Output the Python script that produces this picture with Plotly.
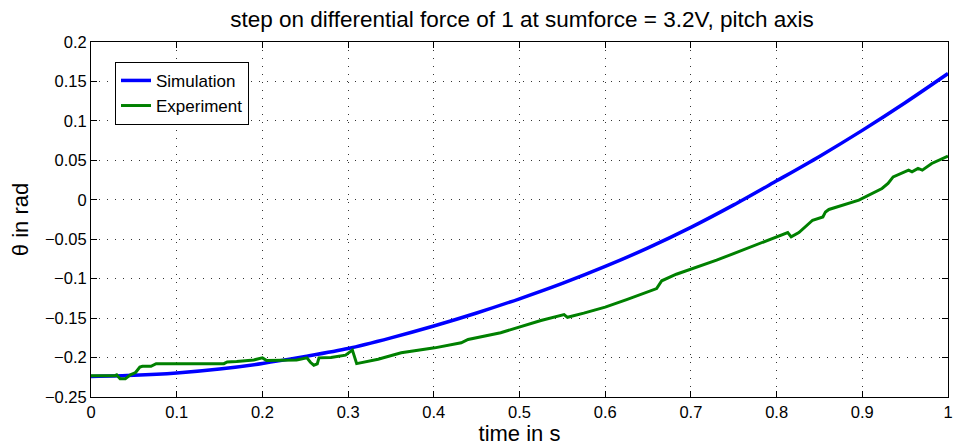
import plotly.graph_objects as go

# ---- data ----
sim_t = [0.00, 0.05, 0.10, 0.15, 0.20, 0.25, 0.30, 0.35, 0.40, 0.45, 0.50,
         0.55, 0.60, 0.65, 0.70, 0.75, 0.80, 0.85, 0.90, 0.95, 1.00]
sim_v = [-0.224, -0.2225, -0.2195, -0.2145, -0.2075, -0.1985, -0.1885, -0.175, -0.160, -0.1435, -0.1255,
         -0.106, -0.0845, -0.061, -0.035, -0.0065, 0.024, 0.055, 0.088, 0.123, 0.160]

exp_t = [0.000, 0.028, 0.030, 0.034, 0.040, 0.046, 0.052, 0.057, 0.060, 0.070, 0.076,
         0.155, 0.159, 0.170, 0.190, 0.200, 0.205, 0.240, 0.252, 0.256, 0.260, 0.264,
         0.266, 0.280, 0.297, 0.305, 0.310, 0.316, 0.335, 0.362, 0.401, 0.432, 0.440,
         0.478, 0.509, 0.525, 0.552, 0.556, 0.575, 0.600, 0.625, 0.645, 0.660, 0.666,
         0.683, 0.730, 0.768, 0.800, 0.813, 0.817, 0.826, 0.842, 0.854, 0.857, 0.861,
         0.896, 0.923, 0.930, 0.936, 0.954, 0.958, 0.965, 0.970, 0.981, 1.000]
exp_v = [-0.223, -0.223, -0.222, -0.227, -0.227, -0.222, -0.219, -0.212, -0.211, -0.211, -0.2077,
         -0.2077, -0.2055, -0.205, -0.203, -0.2004, -0.2038, -0.203, -0.2004, -0.206, -0.2097, -0.208,
         -0.2004, -0.200, -0.197, -0.1906, -0.2077, -0.2064, -0.2021, -0.194, -0.1877, -0.1813, -0.177,
         -0.1686, -0.158, -0.153, -0.1455, -0.149, -0.1437, -0.136, -0.1266, -0.119, -0.1126, -0.1027,
         -0.0944, -0.0766, -0.0606, -0.0479, -0.0415, -0.047, -0.0415, -0.0259, -0.0217, -0.0154, -0.0123,
         -0.0005, 0.0143, 0.0207, 0.029, 0.0376, 0.0355, 0.0397, 0.0376, 0.046, 0.0553]

x_ticks = [0, 0.1, 0.2, 0.3, 0.4, 0.5, 0.6, 0.7, 0.8, 0.9, 1.0]
x_labels = ["0", "0.1", "0.2", "0.3", "0.4", "0.5", "0.6", "0.7", "0.8", "0.9", "1"]
y_ticks = [-0.25, -0.2, -0.15, -0.1, -0.05, 0, 0.05, 0.1, 0.15, 0.2]
y_labels = ["−0.25", "−0.2", "−0.15", "−0.1", "−0.05", "0", "0.05", "0.1", "0.15", "0.2"]

FONT = "Liberation Sans, Arial, Helvetica, sans-serif"

fig = go.Figure()
fig.add_trace(go.Scatter(x=sim_t, y=sim_v, mode="lines", name="Simulation",
                         line=dict(color="#0000ff", width=3.5, shape="spline", smoothing=0.8)))
fig.add_trace(go.Scatter(x=exp_t, y=exp_v, mode="lines", name="Experiment",
                         line=dict(color="#008000", width=3)))

axis_common = dict(
    showline=True, linecolor="black", linewidth=1, mirror="ticks",
    ticks="inside", ticklen=6, tickcolor="black", tickwidth=1,
    showgrid=True, gridcolor="#333333", griddash="1px,7px", gridwidth=1,
    zeroline=False, tickfont=dict(family=FONT, size=16.5, color="black"),
)

fig.update_xaxes(range=[0, 1], tickvals=x_ticks, ticktext=x_labels,
                 title=dict(text="time in s", font=dict(family=FONT, size=22, color="black"), standoff=4),
                 **axis_common)
fig.update_yaxes(range=[-0.25, 0.2], tickvals=y_ticks, ticktext=y_labels,
                 title=dict(text="θ in rad", font=dict(family=FONT, size=22, color="black"), standoff=10),
                 **axis_common)

fig.update_layout(
    width=958, height=446,
    margin=dict(l=91, r=5, t=42, b=49),
    paper_bgcolor="white", plot_bgcolor="white",
    title=dict(text="step on differential force of 1 at sumforce = 3.2V, pitch axis",
               x=(91 + 953) / 2 / 958, xanchor="center", y=0.958, yanchor="middle",
               font=dict(family=FONT, size=22.5, color="black")),
    legend=dict(x=0.028, y=0.944, xanchor="left", yanchor="top",
                bgcolor="white", bordercolor="black", borderwidth=1,
                font=dict(family=FONT, size=17, color="black"),
                tracegroupgap=0, itemwidth=30, entrywidth=150, entrywidthmode="pixels"),
    showlegend=True,
)

fig.write_html("out.html")
